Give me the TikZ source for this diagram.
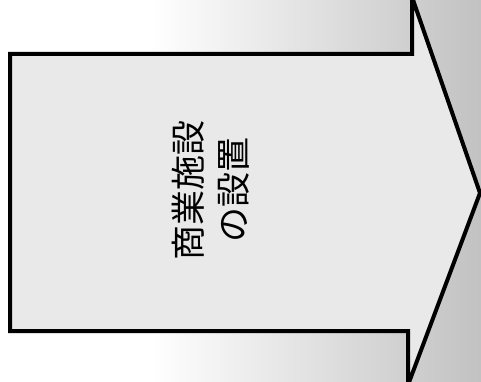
\documentclass[tikz,border=0pt]{standalone}
\usepackage{fontspec}
\newfontfamily\cjk{Noto Sans CJK JP}
\begin{document}
\begin{tikzpicture}[x=1pt,y=-1pt,
  arrowshape/.style={draw=black,line width=4pt,line join=miter,fill=gray!17},
  label/.style={font=\cjk\fontsize{35}{45}\selectfont,align=center,rotate=90,inner sep=0pt}]
\useasboundingbox (0,0) rectangle (481,382);
\fill[white] (0,0) rectangle (150,382);
\shade[left color=white,right color=gray!48] (150,0) rectangle (481,382);
\draw[arrowshape] (10,54) -- (412,54) -- (412,-3) -- (480,193) -- (408,385) -- (408,331) -- (10,331) -- cycle;
\node[label] (t) at (211,190) {商業施設\\の設置};
\end{tikzpicture}
\end{document}
